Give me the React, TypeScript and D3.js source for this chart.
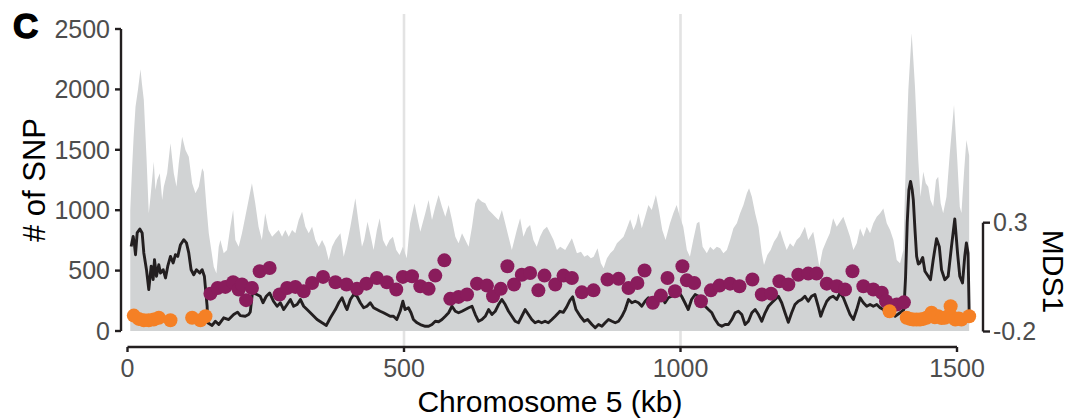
import React from "react";
import * as d3 from "d3";

// Sliding-window SNP counts along chromosome 5 (position in kb, # of SNP)
const snpKb = [
  5, 8.4, 11, 14.5, 19, 23.5, 26, 29.5, 34.3, 38.5, 41.6, 47.5, 50.6, 53.6, 58.4, 62.7, 65.6, 71.7, 77.7, 83.7,
  88.6, 92.7, 98.8, 104.8, 110.8, 116.9, 122.9, 128.9, 135, 137.9, 142.8, 147, 156, 160.8, 165, 168, 174, 180, 186, 191,
  195, 201, 207, 213, 219, 225, 231, 237, 243, 249, 255, 261.5, 267.5, 273.5, 279.5, 285.5, 291.5, 297.6, 303.6, 309.6,
  315.7, 321.7, 327.7, 333.8, 339.8, 345.7, 351.9, 357.8, 363.8, 369.9, 375.9, 385, 391, 397, 403, 412, 418, 424, 428, 434,
  440, 445, 451, 456, 462, 468, 474, 480, 486, 492, 498, 505, 511, 519, 525, 529.5, 538.5, 544.5, 550.6, 556.6,
  562.6, 568.7, 574.7, 580.7, 586.8, 592.8, 598.7, 604.9, 610.9, 616.8, 623, 628.9, 633.8, 641, 647, 653, 659, 665, 671, 677,
  683, 689, 695, 704, 710, 716, 722, 728, 734, 740, 746, 752, 758.5, 764.4, 770.4, 776.6, 782.5, 791.5, 803.6, 812.7,
  820, 826, 832, 838, 843, 850, 856, 861, 867, 873, 879, 885, 891, 897, 903, 909, 915, 920, 924, 930,
  936, 942, 948, 955.5, 961, 967, 973, 981, 987, 993, 999, 1005, 1011.5, 1017, 1023, 1029.6, 1034, 1040, 1047.6, 1053.6,
  1059.6, 1065.7, 1071.7, 1077.6, 1083.8, 1089.7, 1095.7, 1101.9, 1107.8, 1113.8, 1120, 1124, 1129, 1135, 1141, 1147, 1151, 1157, 1163, 1169,
  1175, 1180, 1186, 1192, 1198, 1204, 1210, 1216, 1225, 1231, 1240, 1246, 1251, 1257, 1264.5, 1270, 1276, 1282.5, 1288.5, 1294.5,
  1300.6, 1306.6, 1312.6, 1318.7, 1324.7, 1330.7, 1336.8, 1342.8, 1348.7, 1354.9, 1360.9, 1366.8, 1373, 1379, 1385, 1391, 1397, 1403, 1406, 1409,
  1412, 1418, 1421, 1424, 1430, 1434, 1439, 1443.5, 1448, 1452, 1457, 1462, 1466, 1470.5, 1475, 1481, 1487, 1494.6, 1500.5, 1505,
  1508, 1513, 1517, 1522,
];
const snpCount = [
  1000, 1360, 1600, 1857, 2000, 2166, 2050, 1912, 1443, 974, 1112, 1402, 1167, 1250, 1305, 1084, 1195, 1305, 1554, 1305,
  1195, 1388, 1609, 1498, 1443, 1223, 1140, 1195, 1347, 1319, 1029, 809, 532, 477, 698, 753, 643, 670, 863, 1002,
  753, 698, 809, 946, 1084, 1223, 1057, 863, 753, 974, 836, 781, 809, 836, 781, 836, 781, 836, 809, 919,
  988, 863, 809, 863, 753, 698, 753, 698, 588, 698, 753, 809, 615, 726, 863, 1098, 891, 698, 753, 905,
  781, 670, 836, 933, 753, 698, 753, 781, 670, 629, 698, 602, 891, 1057, 919, 822, 974, 1084, 919, 1029,
  1126, 1029, 946, 1043, 919, 781, 726, 809, 753, 698, 863, 1057, 1098, 1070, 1057, 1002, 974, 946, 919, 1002,
  891, 781, 670, 836, 933, 781, 850, 877, 753, 698, 781, 836, 863, 809, 753, 670, 698, 670, 767, 643,
  657, 615, 629, 602, 615, 684, 560, 519, 602, 643, 670, 726, 753, 781, 850, 925, 836, 891, 974, 850,
  946, 1043, 1002, 1126, 1002, 836, 753, 891, 974, 1043, 946, 863, 670, 615, 753, 891, 905, 698, 643, 698,
  670, 698, 684, 643, 670, 753, 850, 891, 974, 1043, 1140, 1181, 1112, 974, 863, 643, 546, 629, 670, 739,
  781, 836, 750, 670, 726, 698, 753, 781, 863, 753, 822, 670, 532, 670, 753, 809, 933, 863, 905, 946,
  863, 781, 670, 726, 850, 781, 863, 809, 891, 946, 974, 1015, 891, 836, 753, 588, 560, 670, 1167, 1600,
  1995, 2464, 2250, 2022, 1415, 1112, 1319, 1223, 1195, 1084, 1029, 1250, 1277, 1057, 974, 1112, 1471, 1871, 1415, 1029,
  977, 1333, 1581, 1450,
];

// MDS1 of the local genetic structure along the chromosome
const mdsKb = [
  6.6, 10.3, 12.5, 14.5, 17.5, 22.3, 26.5, 29.5, 34.3, 38.5, 42.8, 46.4, 48.8, 52.4, 56.6, 59.6, 64.5, 68.7, 72.8, 77.7,
  82.6, 86.7, 90.9, 95.8, 101.7, 106.6, 110.8, 115, 119.8, 124.7, 130.7, 135, 139, 144, 145, 153, 159, 165, 174, 183,
  192, 199, 204, 213, 219, 222, 226, 234, 240, 245, 251, 257, 264, 270.5, 276.5, 282.5, 288.6, 294.6, 300.5, 306.7,
  312.6, 318.6, 324.7, 333.8, 342.8, 351.9, 359.6, 366.9, 375.9, 381.9, 388, 394, 397, 403, 409, 415, 421, 427, 433, 439,
  445, 451, 457, 463, 469, 475, 481, 487, 493, 498, 502, 508, 512.7, 517, 523.6, 529.5, 538.5, 544.5, 550.6, 556.6,
  562.6, 568.7, 574.7, 580.7, 586.8, 592.8, 598.7, 604.9, 610.9, 616.8, 623, 628.9, 634.9, 641, 647, 653, 659, 665, 671, 677,
  683, 689, 695, 701, 707, 713, 719, 725, 731, 737, 743, 749, 755, 761, 767.5, 773.5, 779.5, 782, 788, 794,
  800, 805, 811, 818.7, 826, 832, 839.8, 845.8, 851.8, 857.9, 863.8, 869.8, 876, 882, 888, 894, 900, 906, 912, 918,
  924, 930, 936, 942, 948, 954, 960, 966, 972, 978, 984, 990, 996, 1002, 1008, 1014, 1020, 1026.5, 1032.5, 1038.6,
  1044.6, 1050.5, 1056.7, 1062.6, 1068.6, 1074.7, 1080.7, 1086.7, 1092.8, 1098.7, 1104.8, 1110.8, 1116.8, 1122.8, 1129, 1135, 1141, 1147, 1153, 1159,
  1165, 1171, 1177, 1183, 1189, 1195, 1201, 1207, 1213, 1219, 1225, 1231, 1237, 1243, 1249, 1253.6, 1258, 1264.5, 1270, 1276,
  1282.5, 1288.5, 1294.5, 1300.6, 1306.6, 1312.6, 1318.7, 1324.7, 1330.7, 1336.8, 1342.8, 1348.7, 1354.9, 1360.9, 1366.8, 1371.7, 1375.8, 1382, 1388, 1397,
  1404, 1407, 1410, 1413, 1416, 1419, 1421, 1424, 1427, 1430, 1433, 1436, 1438, 1442, 1448, 1452, 1457, 1463, 1468, 1472,
  1478, 1484, 1490, 1496, 1501, 1505, 1510, 1514, 1517, 1520, 1522,
];
const mdsValue = [
  0.191, 0.237, 0.2, 0.153, 0.253, 0.271, 0.253, 0.161, 0.084, -0.007, 0.1, 0.039, 0.13, 0.054, 0.107, 0.069, 0.084, 0.046, 0.1, 0.145,
  0.115, 0.153, 0.145, 0.199, 0.222, 0.207, 0.161, 0.084, 0.061, 0.084, 0.069, 0.084, 0.054, -0.084, -0.16, -0.172, -0.153, -0.168, -0.137, -0.145,
  -0.122, -0.111, -0.127, -0.13, -0.122, -0.11, -0.02, -0.03, -0.038, -0.068, -0.038, -0.023, -0.061, -0.084, -0.068, -0.099, -0.076, -0.053, -0.084, -0.076,
  -0.053, -0.084, -0.099, -0.122, -0.145, -0.16, -0.172, -0.137, -0.099, -0.068, -0.045, -0.084, -0.099, -0.053, -0.03, -0.038, -0.068, -0.091, -0.084, -0.068,
  -0.091, -0.099, -0.107, -0.114, -0.122, -0.13, -0.13, -0.145, -0.107, -0.061, -0.099, -0.091, -0.114, -0.145, -0.16, -0.168, -0.176, -0.176, -0.168, -0.153,
  -0.155, -0.145, -0.13, -0.114, -0.084, -0.107, -0.114, -0.107, -0.099, -0.091, -0.084, -0.122, -0.153, -0.145, -0.13, -0.099, -0.122, -0.107, -0.076, -0.053,
  -0.076, -0.107, -0.13, -0.153, -0.16, -0.13, -0.099, -0.122, -0.145, -0.16, -0.153, -0.16, -0.153, -0.16, -0.145, -0.13, -0.114, -0.107, -0.112, -0.088,
  -0.057, -0.041, -0.099, -0.13, -0.153, -0.145, -0.168, -0.183, -0.168, -0.176, -0.16, -0.145, -0.153, -0.16, -0.153, -0.13, -0.099, -0.053, -0.068, -0.061,
  -0.068, -0.084, -0.061, -0.045, -0.061, -0.045, -0.053, -0.038, -0.068, -0.045, -0.038, -0.023, -0.015, -0.038, -0.068, -0.099, -0.053, -0.03, -0.038, -0.068,
  -0.084, -0.099, -0.114, -0.145, -0.168, -0.176, -0.168, -0.168, -0.145, -0.114, -0.107, -0.122, -0.168, -0.153, -0.114, -0.099, -0.122, -0.153, -0.114, -0.084,
  -0.068, -0.053, -0.038, -0.068, -0.114, -0.158, -0.114, -0.076, -0.061, -0.053, -0.038, -0.061, -0.038, -0.03, -0.084, -0.13, -0.099, -0.061, -0.045, -0.038,
  -0.053, -0.023, -0.045, -0.084, -0.122, -0.145, -0.099, -0.045, -0.068, -0.084, -0.076, -0.084, -0.076, -0.091, -0.099, -0.114, -0.13, -0.122, -0.13, -0.114,
  -0.099, 0.05, 0.3, 0.45, 0.49, 0.45, 0.405, 0.268, 0.145, 0.11, 0.115, 0.13, 0.14, 0.077, 0.054, 0.038, 0.13, 0.226, 0.19, 0.084,
  0.038, 0.054, 0.19, 0.317, 0.16, 0.054, 0.023, 0.145, 0.207, 0.16, -0.107,
];

// Windows assigned to the two MDS groups
const purpleKb = [
  150, 163, 177, 191, 201, 207, 214.5, 225, 239, 257, 275, 288.6, 303.6, 318.6, 333.8, 353.6, 376, 396, 415, 432,
  451, 469, 486, 498, 514.5, 529.5, 544.5, 556.6, 573, 583.7, 598.7, 614, 632, 650, 661, 675, 687, 699, 713, 728,
  743, 754, 773.5, 788.5, 803.6, 821.7, 842.7, 868, 888, 906, 922, 935, 950, 964.5, 976.5, 990, 1003.5, 1011.5, 1024.7, 1037,
  1055, 1070.5, 1089.7, 1106.6, 1130, 1147, 1163.8, 1178.8, 1195, 1213, 1231, 1246, 1264.5, 1282.5, 1297.5, 1311, 1330.7, 1348.7, 1364, 1371.7,
  1391, 1404,
];
const purpleMds = [
  -0.026, 0.0, 0.005, 0.026, -0.007, 0.016, -0.056, 0.0, 0.077, 0.092, -0.03, 0.0, 0.005, -0.015, 0.023, 0.051, 0.026, 0.016, -0.004, 0.02,
  0.046, 0.026, -0.007, 0.051, 0.054, 0.008, -0.004, 0.057, 0.127, -0.05, -0.041, -0.03, 0.02, 0.011, -0.038, -0.004, 0.1, 0.016, 0.061, 0.069,
  -0.011, 0.057, 0.016, 0.057, 0.046, -0.02, -0.011, 0.039, 0.042, 0.0, 0.023, 0.08, -0.068, -0.035, 0.046, -0.015, 0.1, 0.035, 0.023, -0.061,
  -0.011, 0.011, 0.02, 0.008, 0.039, -0.03, -0.026, 0.031, 0.016, 0.061, 0.066, 0.066, 0.02, 0.008, -0.007, 0.077, 0.008, -0.007, -0.022, -0.061,
  -0.076, -0.066,
];
const orangeKb = [
  11.4, 20.4, 29.5, 38.5, 47.5, 56.6, 77.7, 116.9, 131.9, 141,
  1378, 1409, 1415, 1421, 1427, 1433, 1439, 1445, 1451, 1454, 1460, 1466, 1472, 1478, 1484, 1488.5, 1492, 1497, 1503, 1508, 1522,
];
const orangeMds = [
  -0.127, -0.142, -0.148, -0.148, -0.145, -0.137, -0.148, -0.137, -0.148, -0.13,
  -0.107, -0.137, -0.142, -0.145, -0.145, -0.145, -0.142, -0.137, -0.128, -0.114, -0.135, -0.13, -0.138, -0.137, -0.13, -0.084, -0.135, -0.145, -0.14, -0.145, -0.13,
];

const xTicks = [0, 500, 1000, 1500];
const gridTicks = [500, 1000];
const snpTicks = [0, 500, 1000, 1500, 2000, 2500];
const mdsTicks = [-0.2, 0.3];
const mdsTickLabels = ["-0.2", "0.3"];

const FONT = "'Liberation Sans', Arial, Helvetica, sans-serif";
const INK = "#231f20";
const TICK_TEXT = "#4d4d4d";
const AREA_FILL = "#d1d3d4";
const PURPLE = "#8a1c5c";
const ORANGE = "#f58025";

export default function App() {
  const width = 1072;
  const height = 420;

  const x = d3.scaleLinear().domain([0, 1500]).range([127.5, 957]);
  const ySnp = d3.scaleLinear().domain([0, 2500]).range([331, 29]);
  const yMds = d3.scaleLinear().domain([-0.2, 0.3]).range([331.5, 222.7]);

  const snpRows = snpKb.map((kb, i) => ({ kb, n: snpCount[i] }));
  const mdsRows = mdsKb.map((kb, i) => ({ kb, v: mdsValue[i] }));

  const area = d3
    .area<{ kb: number; n: number }>()
    .x((d) => x(d.kb))
    .y0(ySnp(0))
    .y1((d) => ySnp(d.n));

  const line = d3
    .line<{ kb: number; v: number }>()
    .x((d) => x(d.kb))
    .y((d) => yMds(d.v));

  const axisY = 347;
  const leftAxisX = 121;
  const rightAxisX = 983;
  const r = 7;

  return (
    <svg
      width={width}
      height={height}
      style={{ position: "absolute", left: 0, top: 0, display: "block", background: "#fff" }}
      fontFamily={FONT}
    >
      {/* vertical reference lines */}
      {gridTicks.map((t) => (
        <line key={t} x1={x(t)} x2={x(t)} y1={14} y2={axisY} stroke="#e3e3e3" strokeWidth={2.6} />
      ))}

      {/* SNP density */}
      <path d={area(snpRows) ?? ""} fill={AREA_FILL} />

      {/* MDS1 trace */}
      <path d={line(mdsRows) ?? ""} fill="none" stroke={INK} strokeWidth={2.9} strokeLinejoin="round" />

      {/* group points */}
      {purpleKb.map((kb, i) => (
        <circle key={`p${i}`} cx={x(kb)} cy={yMds(purpleMds[i])} r={r} fill={PURPLE} />
      ))}
      {orangeKb.map((kb, i) => (
        <circle key={`o${i}`} cx={x(kb)} cy={yMds(orangeMds[i])} r={r} fill={ORANGE} />
      ))}

      {/* left axis: # of SNP */}
      <line x1={leftAxisX} x2={leftAxisX} y1={ySnp(2500)} y2={ySnp(0)} stroke={INK} strokeWidth={2.4} />
      {snpTicks.map((t) => (
        <g key={t}>
          <line x1={leftAxisX - 6} x2={leftAxisX} y1={ySnp(t)} y2={ySnp(t)} stroke={INK} strokeWidth={2.4} />
          <text x={110} y={ySnp(t)} dy="0.35em" textAnchor="end" fontSize={25} fill={TICK_TEXT}>
            {t}
          </text>
        </g>
      ))}
      <text transform={`translate(45,180) rotate(-90)`} textAnchor="middle" fontSize={31} fill="#000">
        # of SNP
      </text>

      {/* bottom axis */}
      <line x1={x(0)} x2={x(1500)} y1={axisY} y2={axisY} stroke={INK} strokeWidth={2.4} />
      {xTicks.map((t) => (
        <g key={t}>
          <line x1={x(t)} x2={x(t)} y1={axisY} y2={axisY + 5} stroke={INK} strokeWidth={2.4} />
          <text x={x(t)} y={377} textAnchor="middle" fontSize={25} fill={TICK_TEXT}>
            {t}
          </text>
        </g>
      ))}
      <text x={550} y={412} textAnchor="middle" fontSize={30} fill="#000">
        Chromosome 5 (kb)
      </text>

      {/* right axis: MDS1 */}
      <line x1={rightAxisX} x2={rightAxisX} y1={yMds(0.3)} y2={yMds(-0.2)} stroke={INK} strokeWidth={2.4} />
      {mdsTicks.map((t, i) => (
        <g key={t}>
          <line x1={rightAxisX} x2={rightAxisX + 7} y1={yMds(t)} y2={yMds(t)} stroke={INK} strokeWidth={2.4} />
          <text x={rightAxisX + 10} y={yMds(t)} dy="0.35em" textAnchor="start" fontSize={25} fill={TICK_TEXT}>
            {mdsTickLabels[i]}
          </text>
        </g>
      ))}
      <text transform={`translate(1043,271.5) rotate(90)`} textAnchor="middle" fontSize={30} fill="#000">
        MDS1
      </text>

      {/* panel letter */}
      <text x={13} y={38} fontSize={35} fontWeight="bold" fill="#000" stroke="#000" strokeWidth={1.4}>
        C
      </text>
    </svg>
  );
}
